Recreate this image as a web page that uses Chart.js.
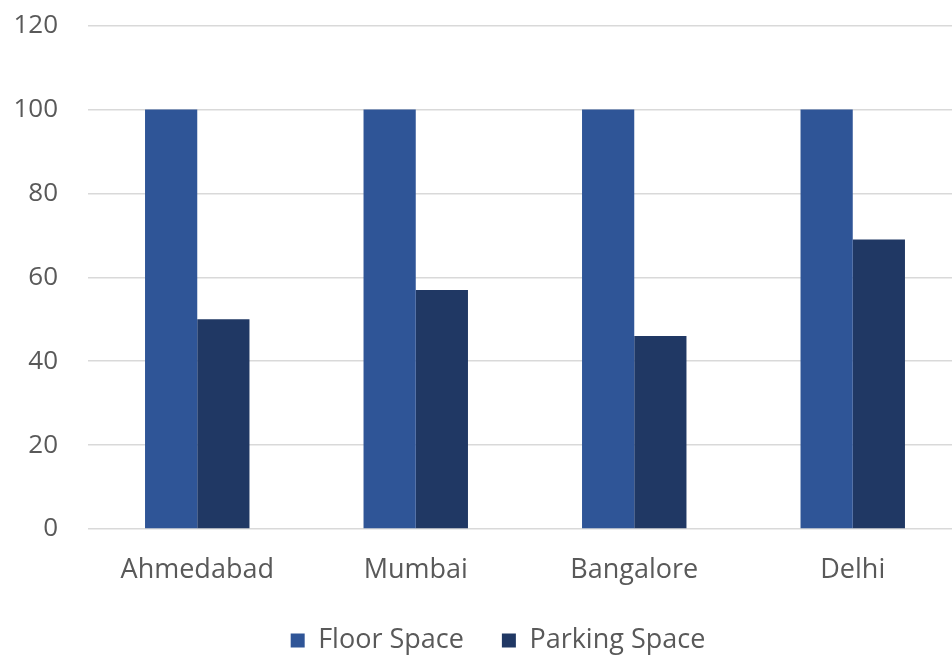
<!DOCTYPE html>
<html><head><meta charset="utf-8">
<script src="https://cdn.jsdelivr.net/npm/chart.js@4"></script>
<style>html,body{margin:0;padding:0;background:#fff;overflow:hidden;width:952px;height:657px}
#wrap{position:absolute;left:0;top:-20px;width:962px;height:684px}</style>
</head><body>
<div id="wrap"><canvas id="c"></canvas></div>
<script>
const categories = ["Ahmedabad", "Mumbai", "Bangalore", "Delhi"];
const floorSpace = [100, 100, 100, 100];
const parkingSpace = [50, 57, 46, 69];
const yTicks = [0, 20, 40, 60, 80, 100, 120];

const FONT = "'Open Sans', sans-serif";
const legendShift = {
  id: 'legendShift',
  afterLayout(chart) {
    if (chart.legend) { chart.legend.left += 17; chart.legend.right += 17; }
  }
};
new Chart(document.getElementById('c'), {
  type: 'bar',
  plugins: [legendShift],
  data: {
    labels: categories,
    datasets: [
      { label: 'Floor Space', data: floorSpace, backgroundColor: '#2F5597', borderWidth: 0 },
      { label: 'Parking Space', data: parkingSpace, backgroundColor: '#203864', borderWidth: 0 }
    ]
  },
  options: {
    responsive: true,
    maintainAspectRatio: false,
    animation: false,
    layout: { padding: { top: 0, left: 0, right: 0, bottom: 0 } },
    datasets: { bar: { categoryPercentage: 0.478, barPercentage: 1.0 } },
    plugins: {
      tooltip: { enabled: false },
      legend: {
        position: 'bottom',
        labels: {
          color: '#595959',
          font: { family: FONT, size: 27 },
          boxWidth: 14, boxHeight: 14, padding: 38
        }
      }
    },
    scales: {
      x: {
        afterFit: (axis) => { axis.height = 60; },
        grid: { display: false, drawTicks: false },
        border: { display: false },
        ticks: { color: '#595959', font: { family: FONT, size: 27 }, padding: 25 }
      },
      y: {
        min: 0, max: 120,
        afterBuildTicks: (axis) => { axis.ticks = yTicks.map(v => ({ value: v })); },
        afterFit: (axis) => { axis.width = 88; },
        grid: { color: '#D9D9D9', lineWidth: 1.5, drawTicks: false },
        border: { display: false },
        ticks: { color: '#595959', font: { family: FONT, size: 26 }, padding: 30 }
      }
    }
  }
});
</script>
</body></html>
